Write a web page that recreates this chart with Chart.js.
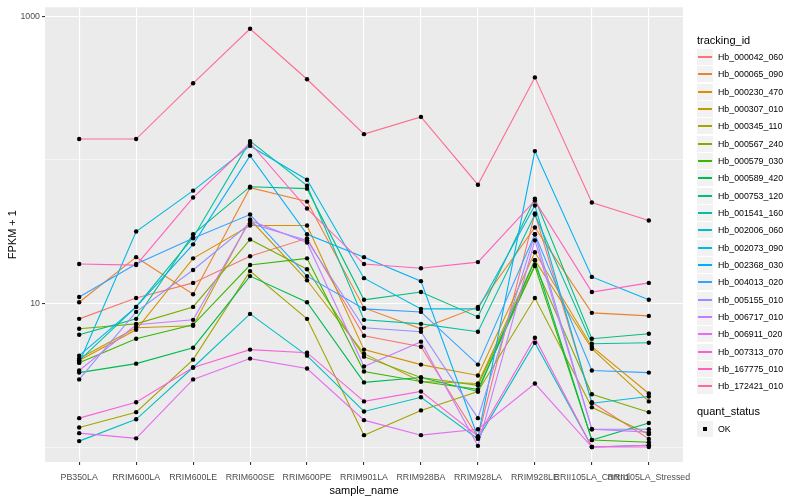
<!DOCTYPE html>
<html>
<head>
<meta charset="utf-8">
<script src="https://cdn.jsdelivr.net/npm/chart.js@4.4.1/dist/chart.umd.min.js"></script>
<style>
  body { margin: 0; background: #ffffff; font-family: "Liberation Sans", Arial, sans-serif; }
  #wrap { position: relative; width: 800px; height: 500px; }
  #legend { position: absolute; left: 697px; top: 0; width: 103px; height: 500px; color: #000; }
  .ltitle { position: absolute; left: 0; font-size: 11px; height: 17px; line-height: 17px; }
  .litem { position: absolute; left: 0; height: 17px; display: flex; align-items: center; font-size: 8.8px; }
  .lkey { width: 16px; height: 16px; background: #f2f2f2; position: relative; margin-right: 5px; }
  .lkey span { position: absolute; left: 1px; right: 1px; top: 7px; height: 2px; }
  .lkey i { position: absolute; left: 6px; top: 6px; width: 4px; height: 4px; background: #000; }
</style>
</head>
<body>
<div id="wrap">
  <canvas id="myChart" width="800" height="500"></canvas>
  <div id="legend"></div>
</div>
<script>
const sampleNames = ["PB350LA", "RRIM600LA", "RRIM600LE", "RRIM600SE", "RRIM600PE", "RRIM901LA",
  "RRIM928BA", "RRIM928LA", "RRIM928LE", "RRII105LA_Control", "RRII105LA_Stressed"];

const trackingIds = ["Hb_000042_060", "Hb_000065_090", "Hb_000230_470", "Hb_000307_010", "Hb_000345_110",
  "Hb_000567_240", "Hb_000579_030", "Hb_000589_420", "Hb_000753_120", "Hb_001541_160",
  "Hb_002006_060", "Hb_002073_090", "Hb_002368_030", "Hb_004013_020", "Hb_005155_010",
  "Hb_006717_010", "Hb_006911_020", "Hb_007313_070", "Hb_167775_010", "Hb_172421_010"];

// FPKM + 1, one row per tracking_id, one value per sample
const hb000042 = [7.81, 10.9, 13.9, 21.3, 28.4, 5.96, 5.00, 1.17, 42.3, 2.05, 1.14];
const hb000065 = [10.2, 21.0, 11.6, 64.0, 51.2, 9.31, 6.66, 9.46, 33.8, 8.60, 8.19];
const hb000230 = [4.00, 6.55, 20.6, 34.9, 34.9, 4.77, 3.75, 3.15, 22.7, 5.00, 2.36];
const hb000307 = [4.13, 6.77, 6.99, 38.4, 14.5, 4.47, 2.86, 2.77, 20.0, 4.84, 2.08];
const hb000345 = [1.37, 1.75, 4.06, 16.8, 7.81, 1.21, 1.80, 2.44, 10.9, 1.89, 1.23];
const hb000567 = [6.66, 7.21, 9.46, 27.9, 17.3, 4.26, 3.05, 2.69, 18.5, 2.33, 1.75];
const hb000579 = [3.87, 5.68, 7.10, 18.5, 20.6, 3.36, 2.86, 2.52, 18.2, 1.12, 1.08];
const hb000589 = [3.30, 3.81, 4.92, 15.5, 10.2, 2.82, 3.05, 2.44, 20.0, 1.12, 1.47];
const hb000753 = [6.05, 7.81, 30.3, 65.0, 63.0, 10.6, 12.0, 8.06, 53.7, 5.68, 6.15];
const hb001541 = [4.00, 9.46, 28.8, 135, 66.1, 7.69, 7.21, 6.35, 41.6, 5.24, 5.33];
const hb002006 = [1.10, 1.56, 3.58, 8.46, 4.33, 1.77, 2.22, 1.14, 5.33, 1.00, 1.03];
const hb002073 = [3.87, 31.7, 61.0, 125, 72.7, 15.0, 9.16, 9.16, 48.1, 2.02, 2.25];
const hb002368 = [4.33, 9.46, 25.8, 107, 30.3, 21.0, 14.3, 1.17, 115, 15.3, 10.6];
const hb004013 = [11.1, 18.8, 28.4, 41.6, 15.5, 9.16, 8.73, 3.75, 30.3, 3.41, 3.30];
const hb005155 = [2.96, 8.73, 17.1, 36.1, 27.5, 6.77, 6.35, 1.59, 30.3, 1.33, 1.33];
const hb006717 = [3.41, 7.10, 7.69, 37.8, 26.6, 3.64, 5.42, 1.02, 27.5, 1.33, 1.27];
const hb006911 = [1.25, 1.15, 2.96, 4.13, 3.52, 1.54, 1.21, 1.33, 2.77, 1.00, 1.03];
const hb007313 = [1.59, 2.05, 3.58, 4.77, 4.54, 2.08, 2.44, 1.19, 5.77, 1.00, 1.00];
const hb167775 = [18.8, 18.5, 54.6, 131, 45.8, 18.8, 17.6, 19.4, 52.0, 12.0, 13.9];
const hb172421 = [139.6, 139.6, 341, 818, 364, 151, 199, 67.1, 375, 50.4, 37.8];

const yTicks = [1, 10, 100, 1000];
const yLabels = ["", "10", "", "1000"];

// ggplot default hue palette for 20 levels
const lineColors = ["#F8766D", "#EA8331", "#D89000", "#C09B00", "#A3A500", "#7CAE00", "#39B600",
  "#00BB4E", "#00BF7D", "#00C1A3", "#00BFC4", "#00BAE0", "#00B0F6", "#35A2FF", "#9590FF",
  "#C77CFF", "#E76BF3", "#FA62DB", "#FF62BC", "#FF6C91"];

const seriesValues = [hb000042, hb000065, hb000230, hb000307, hb000345, hb000567, hb000579,
  hb000589, hb000753, hb001541, hb002006, hb002073, hb002368, hb004013, hb005155, hb006717,
  hb006911, hb007313, hb167775, hb172421];

// grey panel behind the plot area
const panelBg = {
  id: "panelBg",
  beforeDraw(chart) {
    const a = chart.chartArea;
    const ctx = chart.ctx;
    ctx.save();
    ctx.fillStyle = "#EBEBEB";
    ctx.fillRect(a.left, a.top, a.right - a.left, a.bottom - a.top);
    ctx.restore();
  }
};

function buildDatasets() {
  let datasets = [];
  let allPoints = [];
  seriesValues.forEach((values, i) => {
    const pts = values.map((v, j) => ({ x: j, y: v }));
    allPoints = allPoints.concat(pts);
    datasets.push({
      label: trackingIds[i],
      data: pts,
      borderColor: lineColors[i],
      borderWidth: 1.1,
      pointRadius: 0,
      showLine: true,
      tension: 0,
      order: 20 - i
    });
  });
  // points on top of all lines
  datasets.push({
    label: "OK",
    data: allPoints,
    showLine: false,
    pointRadius: 2.2,
    pointBackgroundColor: "#000",
    pointBorderWidth: 0,
    order: -1
  });
  return datasets;
}

function renderChart() {
  new Chart("myChart", {
    type: "scatter",
    data: { datasets: buildDatasets() },
    plugins: [panelBg],
    options: {
      responsive: false,
      animation: false,
      layout: { padding: { top: 5, right: 117, left: 0, bottom: 0 } },
      plugins: { legend: { display: false }, tooltip: { enabled: false } },
      scales: {
        x: {
          type: "linear",
          min: -0.6,
          max: 10.6,
          afterBuildTicks: (scale) => { scale.ticks = sampleNames.map((n, i) => ({ value: i })); },
          afterFit: (scale) => { scale.height = 38; },
          grid: { color: "#ffffff", lineWidth: 1.1, tickColor: "#333333", tickLength: 3 },
          border: { display: false },
          ticks: {
            autoSkip: false, maxRotation: 0, padding: 7, color: "#4D4D4D",
            font: { family: "Liberation Sans", size: 8.8 },
            callback: (v) => sampleNames[v]
          },
          title: {
            display: true, text: "sample_name", color: "#000",
            font: { family: "Liberation Sans", size: 11 }, padding: { top: 0, bottom: 2 }
          }
        },
        y: {
          type: "logarithmic",
          min: 0.787,
          max: 1154,
          afterBuildTicks: (scale) => { scale.ticks = yTicks.map((v) => ({ value: v })); },
          afterFit: (scale) => { scale.width = 45; },
          grid: {
            color: "#ffffff",
            lineWidth: (c) => (yLabels[c.index] ? 1.1 : 0.55),
            tickColor: (c) => (yLabels[c.index] ? "#333333" : "rgba(0,0,0,0)"),
            tickLength: 3
          },
          border: { display: false },
          ticks: {
            padding: 2, color: "#4D4D4D",
            font: { family: "Liberation Sans", size: 8.8 },
            callback: (v, i) => yLabels[i]
          },
          title: {
            display: true, text: "FPKM + 1", color: "#000",
            font: { family: "Liberation Sans", size: 11 }, padding: { top: 6, bottom: 0 }
          }
        }
      }
    }
  });
}

function renderLegend() {
  const box = document.getElementById("legend");
  let html = '<div class="ltitle" style="top:32px">tracking_id</div>';
  trackingIds.forEach((id, i) => {
    const top = Math.round(48 + i * 17.33);
    html += '<div class="litem" style="top:' + top + 'px"><div class="lkey"><span style="background:' +
      lineColors[i] + '"></span></div>' + id + "</div>";
  });
  html += '<div class="ltitle" style="top:403px">quant_status</div>';
  html += '<div class="litem" style="top:420px"><div class="lkey"><i></i></div>OK</div>';
  box.innerHTML = html;
}

renderChart();
renderLegend();
</script>
</body>
</html>
